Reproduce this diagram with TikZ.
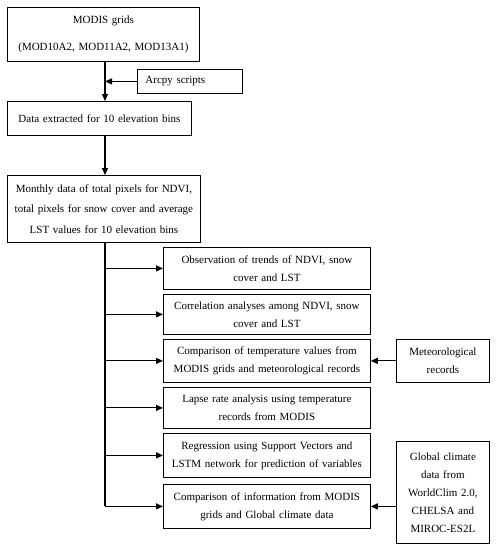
\documentclass[tikz,border=0pt]{standalone}
\usepackage{fontspec}
\setmainfont{Liberation Serif}
\usepackage{tikz}
\usetikzlibrary{arrows.meta}
\tikzstyle{process} = [rectangle, draw=black, fill=white, line width=0.8pt, align=center, inner sep=3pt, anchor=north west, font=\fontsize{11}{18}\selectfont]
\tikzstyle{arrow} = [line width=1.1pt,-{Triangle[length=7pt,width=6pt]}]
\tikzstyle{trunkline} = [line width=1.1pt]

\begin{document}
\begin{tikzpicture}[x=1pt, y=-1pt]
\useasboundingbox (0,0) rectangle (502,550);
\coordinate (trunk) at (105,0);

\node (modis) [process, text width=186pt, minimum height=54pt] at (7,7) {MODIS grids\\[9pt](MOD10A2, MOD11A2, MOD13A1)};
\node (arcpy) [process, text width=89pt, inner xsep=8pt, align=left, minimum height=24pt] at (137,69) {Arcpy scripts};
\node (extract) [process, text width=178pt, minimum height=34pt] at (7,101) {Data extracted for 10 elevation bins};
\node (monthly) [process, text width=187pt, minimum height=67pt] at (7,175) {Monthly data of total pixels for NDVI,\\[2.5pt]total pixels for snow cover and average\\[2.5pt]LST values for 10 elevation bins};

\node (observ) [process, text width=201pt, minimum height=42pt] at (163,247) {Observation of trends of NDVI, snow\\cover and LST};
\node (correl) [process, text width=201pt, minimum height=40pt] at (163,294) {Correlation analyses among NDVI, snow\\cover and LST};
\node (compT) [process, text width=201pt, minimum height=43pt] at (163,339) {Comparison of temperature values from\\MODIS grids and meteorological records};
\node (lapse) [process, text width=201pt, minimum height=41pt] at (163,387) {Lapse rate analysis using temperature\\records from MODIS};
\node (regress) [process, text width=201pt, minimum height=44pt] at (163,433) {Regression using Support Vectors and\\LSTM network for prediction of variables};
\node (compG) [process, text width=201pt, minimum height=44pt] at (163,484) {Comparison of information from MODIS\\grids and Global climate data};

\node (meteo) [process, text width=87pt, minimum height=43pt] at (396,339) {Meteorological\\records};
\node (global) [process, text width=87pt, minimum height=102pt] at (396,441) {Global climate\\data from\\WorldClim 2.0,\\CHELSA and\\MIROC-ES2L};

\draw [arrow] (modis.south -| trunk) -- (extract.north -| trunk);
\draw [arrow] (arcpy.west) -- (arcpy.west -| trunk);
\draw [arrow] (extract.south -| trunk) -- (monthly.north -| trunk);
\draw [trunkline] (monthly.south -| trunk) -- (compG.west -| trunk);
\draw [arrow] (observ.west -| trunk) -- (observ.west);
\draw [arrow] (correl.west -| trunk) -- (correl.west);
\draw [arrow] (compT.west -| trunk) -- (compT.west);
\draw [arrow] (lapse.west -| trunk) -- (lapse.west);
\draw [arrow] (regress.west -| trunk) -- (regress.west);
\draw [arrow] (compG.west -| trunk) -- (compG.west);
\draw [arrow] (meteo.west) -- (compT.east);
\draw [arrow] (global.west |- compG.east) -- (compG.east);

\end{tikzpicture}
\end{document}
